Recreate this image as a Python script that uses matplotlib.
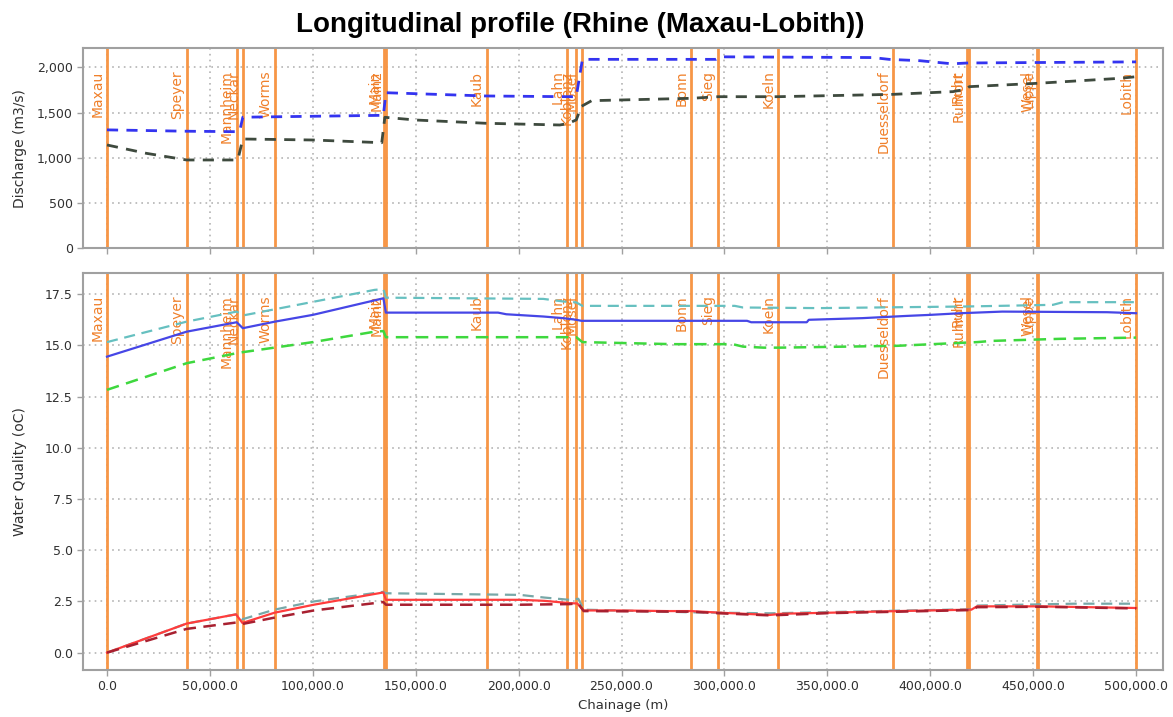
import matplotlib
matplotlib.use("Agg")
import matplotlib.pyplot as plt
from matplotlib.ticker import FuncFormatter, MultipleLocator

# Stations along the river (chainage in m from Maxau)
station_names = ["Maxau", "Speyer", "Mannheim", "Neckar", "Worms", "Main", "Mainz", "Kaub",
                 "Lahn", "Koblenz", "Mosel", "Bonn", "Sieg", "Koeln", "Duesseldorf",
                 "Ruhr", "Ruhrort", "Wesel", "Lippe", "Lobith"]
station_chainage = [0, 38700, 63000, 66200, 81600, 134600, 135600, 184500,
                    223600, 227900, 230700, 283800, 297000, 326200, 381900,
                    417900, 418600, 451900, 452500, 500000]

# Discharge (m3/s)
q_upper_x = [0, 38700, 63000, 64500, 66000, 134300, 135500, 184000, 223400, 228000,
             231000, 296000, 298500, 372000, 380000, 395000, 411000, 414000, 418500, 500000]
q_upper = [1310, 1295, 1290, 1300, 1450, 1471, 1721, 1685, 1677, 1677,
           2090, 2090, 2118, 2110, 2090, 2075, 2040, 2045, 2050, 2062]

q_lower_x = [0, 19000, 38700, 63000, 64000, 66000, 100000, 133500, 135000, 150000,
             184000, 220000, 224000, 228000, 230500, 235500, 283800, 297000, 326000,
             382000, 411000, 417500, 419000, 452000, 492000, 500000]
q_lower = [1143, 1051, 977, 977, 1020, 1209, 1198, 1168, 1449, 1419,
           1383, 1364, 1380, 1420, 1570, 1633, 1659, 1677, 1677,
           1703, 1733, 1760, 1788, 1825, 1880, 1898]

# Water temperature (oC)
t_mean_x = [0, 38700, 63000, 66000, 81600, 100000, 134300, 135500, 190000, 194000,
            212000, 221600, 228000, 230500, 311000, 313000, 340000, 341000, 367000,
            388700, 400000, 414500, 435000, 486000, 500000]
t_mean = [14.45, 15.67, 16.13, 15.84, 16.16, 16.49, 17.30, 16.60, 16.60, 16.52,
          16.41, 16.33, 16.25, 16.20, 16.20, 16.13, 16.13, 16.25, 16.33,
          16.44, 16.49, 16.57, 16.65, 16.62, 16.57]

t_max_x = [0, 38700, 63000, 66000, 130000, 134300, 135500, 212000, 222000, 228000,
           231000, 305000, 309000, 346000, 418000, 459600, 464500, 500000]
t_max = [15.16, 16.16, 16.65, 16.46, 17.71, 17.75, 17.33, 17.27, 17.14, 17.10,
         16.93, 16.93, 16.85, 16.82, 16.90, 16.98, 17.11, 17.11]

t_min_x = [0, 38700, 63000, 66000, 100000, 130000, 134300, 135500, 228000, 231000,
           275000, 304000, 309000, 319000, 327000, 384000, 401000, 422700, 430000,
           463000, 500000]
t_min = [12.83, 14.13, 14.62, 14.67, 15.16, 15.67, 15.70, 15.40, 15.40, 15.16,
         15.06, 15.06, 14.94, 14.89, 14.89, 14.98, 15.06, 15.16, 15.22,
         15.32, 15.38]

# Temperature increase (oC)
dt_mean_x = [0, 38700, 62700, 65800, 81400, 100500, 134300, 135500, 200700, 212500,
             224600, 228500, 231600, 249300, 271600, 283800, 298000, 322000, 328000,
             351000, 384600, 420000, 422700, 453800, 500000]
dt_mean = [0.0, 1.42, 1.87, 1.45, 1.95, 2.34, 2.94, 2.58, 2.58, 2.53,
           2.42, 2.40, 2.06, 2.06, 2.03, 2.03, 1.95, 1.84, 1.90,
           1.95, 2.03, 2.10, 2.26, 2.26, 2.18]

dt_max_x = [0, 38700, 62700, 65800, 81400, 100500, 134300, 135500, 200700, 212500,
            224600, 229000, 231600, 283800, 322000, 384600, 420000, 423000, 470000, 500000]
dt_max = [0.0, 1.42, 1.87, 1.63, 2.10, 2.50, 2.97, 2.90, 2.82, 2.69,
          2.58, 2.63, 2.10, 1.97, 1.92, 2.05, 2.12, 2.30, 2.39, 2.39]

dt_min_x = [0, 38700, 62700, 65800, 81400, 100500, 134300, 135500, 200700, 224600,
            229000, 231600, 249300, 283800, 298000, 322000, 351000, 384600, 420000,
            422700, 453800, 500000]
dt_min = [0.0, 1.16, 1.47, 1.40, 1.71, 2.06, 2.47, 2.34, 2.34, 2.37,
          2.40, 2.03, 2.02, 2.00, 1.92, 1.82, 1.93, 2.00, 2.08,
          2.22, 2.24, 2.16]

station_color = "#f79646"
label_color = "#f0802a"
text_color = "#303030"
grid_style = dict(linestyle=(0, (1, 2.5)), color="#b4b4b4", linewidth=1.2)

fig = plt.figure(figsize=(11.73, 7.17), dpi=100)
ax_q = fig.add_axes([0.0710, 0.6537, 0.9205, 0.2789])
ax_t = fig.add_axes([0.0710, 0.0656, 0.9205, 0.5541], sharex=ax_q)

fig.text(0.495, 0.965, "Longitudinal profile (Rhine (Maxau-Lobith))", ha="center", va="center",
         fontsize=20, fontweight="bold", family="Liberation Sans")

for ax in (ax_q, ax_t):
    ax.grid(True, **grid_style)
    ax.set_axisbelow(True)
    for sp in ax.spines.values():
        sp.set_color("#a0a0a0")
        sp.set_linewidth(1.5)
    ax.tick_params(colors="#a0a0a0", labelcolor=text_color, labelsize=9, length=4, width=1)
    # station markers with rotated names
    for name, ch in zip(station_names, station_chainage):
        ax.axvline(ch, color=station_color, linewidth=2, zorder=1)
        ax.annotate(name, xy=(ch, 1), xycoords=("data", "axes fraction"),
                    xytext=(-2, -16), textcoords="offset points", rotation=90,
                    ha="right", va="top", fontsize=10, color=label_color, zorder=2)

# Discharge panel
ax_q.plot(q_upper_x, q_upper, color="#3434f0", linewidth=2, linestyle=(0, (4, 3)), zorder=3)
ax_q.plot(q_lower_x, q_lower, color="#3e4a3e", linewidth=2, linestyle=(0, (4, 3)), zorder=3)
ax_q.set_ylim(0, 2212)
ax_q.yaxis.set_major_locator(MultipleLocator(500))
ax_q.yaxis.set_major_formatter(FuncFormatter(lambda v, p: f"{v:,.0f}"))
ax_q.tick_params(axis="x", labelbottom=False)
ax_q.set_ylabel("Discharge (m3/s)", fontsize=10, color=text_color)

# Water quality panel
ax_t.plot(t_max_x, t_max, color="#66c0c0", linewidth=1.6, linestyle=(0, (5, 3)), zorder=3)
ax_t.plot(t_min_x, t_min, color="#3ed83e", linewidth=1.8, linestyle=(0, (5, 3)), zorder=3)
ax_t.plot(t_mean_x, t_mean, color="#4646e6", linewidth=1.6, zorder=4)
ax_t.plot(dt_max_x, dt_max, color="#78a8a8", linewidth=1.6, linestyle=(0, (5, 3)), zorder=3)
ax_t.plot(dt_mean_x, dt_mean, color="#ff3c3c", linewidth=1.6, zorder=4)
ax_t.plot(dt_min_x, dt_min, color="#a82030", linewidth=1.8, linestyle=(0, (5, 3)), zorder=5)
ax_t.set_ylim(-0.845, 18.55)
ax_t.yaxis.set_major_locator(MultipleLocator(2.5))
ax_t.yaxis.set_major_formatter(FuncFormatter(lambda v, p: f"{v:.1f}"))
ax_t.set_ylabel("Water Quality (oC)", fontsize=10, color=text_color)

ax_t.set_xlim(-11520, 513100)
ax_t.xaxis.set_major_locator(MultipleLocator(50000))
ax_t.xaxis.set_major_formatter(FuncFormatter(lambda v, p: f"{v:,.1f}"))
ax_t.set_xlabel("Chainage (m)", fontsize=9.5, color=text_color, labelpad=4)

for ax in (ax_q, ax_t):
    ax.yaxis.set_label_coords(-0.052, 0.5)

fig.savefig("out.png", dpi=100, facecolor="white")
